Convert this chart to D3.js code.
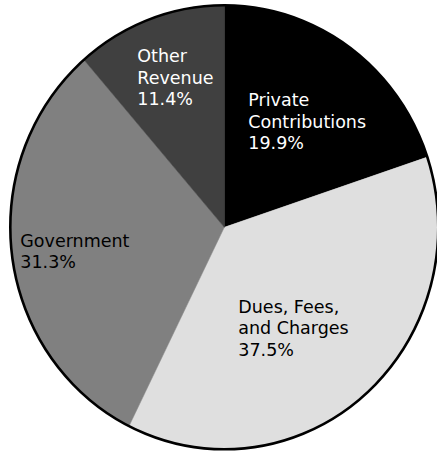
<!DOCTYPE html>
<html>
<head>
<meta charset="utf-8">
<script src="https://cdn.jsdelivr.net/npm/d3@7"></script>
<style>
  html, body { margin: 0; padding: 0; background: #fff; }
  svg { display: block; }
</style>
</head>
<body>
<svg id="chart" width="437" height="451"></svg>
<script>
// Revenue sources, share of total (%)
const categories = ["Private Contributions", "Dues, Fees, and Charges", "Government", "Other Revenue"];
const labelLines = [
  ["Private", "Contributions"],
  ["Dues, Fees,", "and Charges"],
  ["Government"],
  ["Other", "Revenue"]
];
const shares = [19.9, 37.5, 31.3, 11.4];
const fills = ["#000000", "#dfdfdf", "#808080", "#404040"];
const textColors = ["#ffffff", "#000000", "#000000", "#ffffff"];

// Geometry
const cx = 224.3, cy = 227.3;
const rx = 214, ry = 222;
// Label block anchors relative to the centre (left edge, first baseline)
const labelOffsets = [[24, -121], [14, 85.5], [-204, 19.5], [-87, -165]];
const lineHeight = 21.5;

const svg = d3.select("#chart");

const pie = d3.pie().sort(null).value(d => d.value);
const arcs = pie(categories.map((c, i) => ({ name: c, value: shares[i], i })));
const arc = d3.arc().innerRadius(0).outerRadius(ry);

const g = svg.append("g")
  .attr("transform", `translate(${cx},${cy}) scale(${rx / ry},1)`);

g.selectAll("path.slice")
  .data(arcs)
  .join("path")
  .attr("class", "slice")
  .attr("d", arc)
  .attr("fill", d => fills[d.data.i])
  .attr("stroke", d => fills[d.data.i])
  .attr("stroke-width", 0.5)
  .attr("vector-effect", "non-scaling-stroke");

g.append("path")
  .attr("d", d3.arc().innerRadius(0).outerRadius(ry)({ startAngle: 0, endAngle: 2 * Math.PI }))
  .attr("fill", "none")
  .attr("stroke", "#000")
  .attr("stroke-width", 2.6)
  .attr("vector-effect", "non-scaling-stroke");

const labels = svg.append("g")
  .attr("font-family", "'DejaVu Sans', sans-serif")
  .attr("font-size", 17.5);

arcs.forEach(d => {
  const i = d.data.i;
  const [ox, oy] = labelOffsets[i];
  const lines = labelLines[i].concat([d3.format(".1f")(shares[i]) + "%"]);
  const t = labels.append("text")
    .attr("x", cx + ox)
    .attr("y", cy + oy)
    .attr("fill", textColors[i]);
  lines.forEach((ln, k) => {
    t.append("tspan")
      .attr("x", cx + ox)
      .attr("dy", k === 0 ? 0 : lineHeight)
      .text(ln);
  });
});
</script>
</body>
</html>
